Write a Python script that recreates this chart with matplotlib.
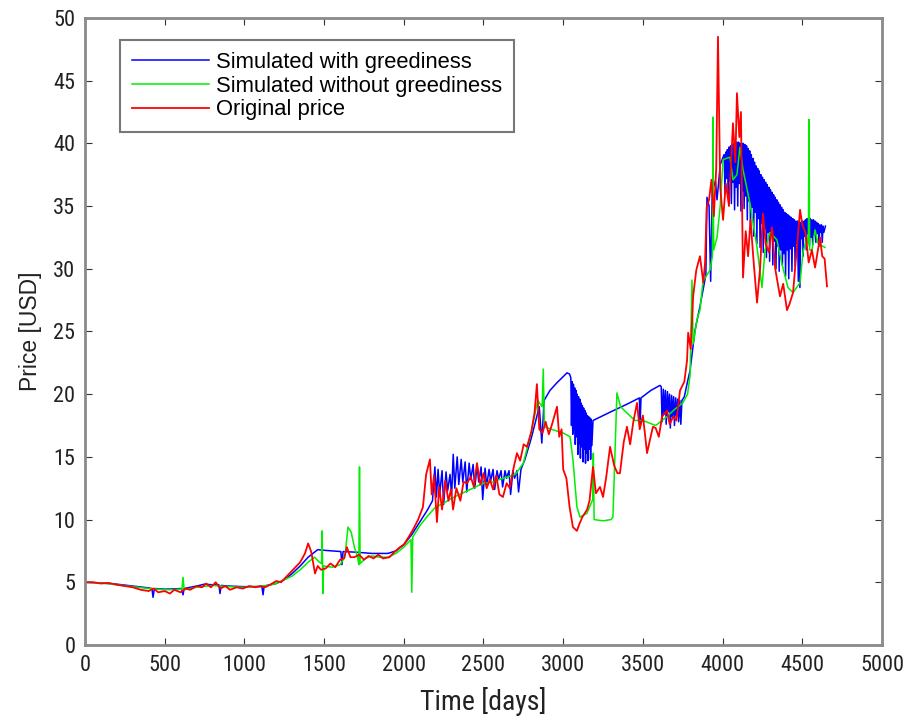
import numpy as np
import matplotlib
matplotlib.use("Agg")
import matplotlib.pyplot as plt

# (day, price) samples for each series
greedy_pts = [
    (0, 5.0), (100, 4.95), (200, 4.85), (300, 4.7), (400, 4.55), (420, 4.5), (427, 3.8), (435, 4.5),
    (500, 4.45), (605, 4.5), (615, 4.0), (622, 4.5), (700, 4.7), (750, 4.85), (800, 4.8), (840, 4.8),
    (847, 4.1), (854, 4.75), (900, 4.7), (1000, 4.65), (1110, 4.65), (1117, 4.0), (1124, 4.7),
    (1200, 4.9), (1250, 5.2), (1300, 5.7), (1350, 6.3), (1400, 7.0), (1430, 7.3), (1460, 7.6),
    (1500, 7.55), (1550, 7.5), (1605, 7.45), (1612, 6.4), (1619, 7.45), (1700, 7.4), (1800, 7.3),
    (1900, 7.3), (1950, 7.5), (2000, 8.0), (2050, 8.8), (2100, 9.8), (2150, 10.8), (2180, 11.5),
    (2195, 14.2), (2205, 11.8), (2215, 14.0), (2225, 12.0), (2240, 13.9), (2250, 11.2), (2265, 13.8),
    (2275, 12.3), (2290, 13.6), (2300, 11.9), (2310, 15.2), (2320, 12.5), (2335, 15.0), (2345, 12.8),
    (2360, 14.8), (2370, 13.0), (2385, 14.6), (2395, 12.2), (2410, 14.5), (2420, 13.2), (2435, 14.4),
    (2445, 12.5), (2460, 14.3), (2470, 13.0), (2485, 14.2), (2495, 11.6), (2510, 14.1), (2520, 12.7),
    (2535, 14.0), (2545, 13.1), (2560, 14.0), (2570, 12.4), (2585, 13.9), (2595, 13.2), (2610, 13.9),
    (2620, 12.6), (2635, 13.9), (2645, 13.3), (2660, 13.9), (2670, 12.0), (2685, 13.9), (2695, 13.3),
    (2710, 13.9), (2720, 12.2), (2735, 14.0), (2760, 14.8), (2800, 16.5), (2830, 18.0), (2850, 19.0),
    (2866, 16.1), (2880, 19.5), (2917, 20.3), (2960, 20.9), (3000, 21.4), (3024, 21.7), (3040, 21.6),
    (3048, 21.3), (3052, 17.5), (3056, 21.0), (3060, 16.8), (3064, 20.8), (3068, 17.2), (3072, 20.5),
    (3076, 16.0), (3080, 20.3), (3084, 16.6), (3088, 20.0), (3092, 15.2), (3096, 19.8), (3100, 16.0),
    (3104, 19.6), (3108, 14.9), (3112, 19.3), (3116, 15.8), (3120, 19.1), (3124, 14.6), (3128, 18.9),
    (3132, 15.6), (3136, 18.7), (3140, 14.5), (3144, 18.5), (3148, 15.3), (3152, 18.3), (3156, 14.7),
    (3160, 18.2), (3164, 15.6), (3168, 18.1), (3172, 14.8), (3176, 18.0), (3180, 15.9), (3187, 17.9),
    (3300, 18.6), (3400, 19.2), (3478, 19.7), (3482, 17.4), (3488, 19.7), (3550, 20.3), (3607, 20.7),
    (3615, 20.6), (3620, 17.8), (3628, 20.4), (3633, 18.4), (3641, 20.3), (3646, 17.6), (3654, 20.2),
    (3659, 18.6), (3667, 20.0), (3672, 17.3), (3680, 19.9), (3685, 18.2), (3693, 19.8), (3698, 17.5),
    (3706, 19.7), (3711, 18.3), (3719, 19.6), (3724, 17.8), (3732, 19.5), (3738, 17.6), (3745, 19.5),
    (3760, 19.8), (3780, 21.0), (3796, 21.9), (3827, 25.1), (3858, 27.0), (3877, 28.3), (3895, 29.5),
    (3902, 35.7), (3915, 35.0), (3925, 29.0), (3935, 36.2), (3955, 37.0), (3965, 35.5), (3985, 38.3),
    (4003, 38.9),
    (4010, 39.1), (4015, 36.0), (4020, 39.3), (4025, 37.2), (4030, 39.5), (4035, 35.8), (4040, 39.7),
    (4045, 37.0), (4050, 39.8), (4055, 35.2), (4060, 39.9), (4065, 36.9), (4070, 40.0), (4075, 34.7),
    (4080, 40.1), (4085, 36.5), (4090, 40.1), (4095, 35.0), (4100, 40.1), (4105, 36.8), (4110, 40.0),
    (4115, 34.6), (4120, 40.0), (4125, 36.2), (4130, 40.0), (4135, 34.8), (4140, 39.9), (4145, 35.8),
    (4150, 39.8), (4155, 33.9), (4160, 39.6), (4165, 35.4), (4170, 39.4), (4175, 33.2), (4180, 39.1),
    (4185, 34.9), (4190, 38.8), (4195, 32.6), (4200, 38.5), (4205, 34.5), (4210, 38.2), (4215, 32.0),
    (4220, 38.0), (4225, 34.0), (4230, 37.8), (4235, 31.7), (4240, 37.5), (4245, 33.6), (4250, 37.3),
    (4255, 31.3), (4260, 37.1), (4265, 33.2), (4270, 36.9), (4275, 30.9), (4280, 36.7), (4285, 32.9),
    (4290, 36.5), (4295, 30.6), (4300, 36.3), (4305, 32.6), (4310, 36.1), (4315, 30.3), (4320, 35.9),
    (4325, 32.2), (4330, 35.7), (4335, 30.0), (4340, 35.5), (4345, 31.8), (4350, 35.3), (4355, 29.8),
    (4360, 35.1), (4365, 31.5), (4370, 34.9), (4375, 30.3), (4380, 34.7), (4385, 31.2), (4390, 34.5),
    (4395, 29.4), (4400, 34.4), (4405, 31.5), (4410, 34.3), (4415, 29.2), (4420, 34.2), (4425, 31.6),
    (4430, 34.1), (4435, 29.8), (4440, 34.0), (4445, 31.8), (4450, 33.9), (4455, 30.2), (4460, 33.8),
    (4465, 32.0), (4470, 33.8), (4475, 29.0), (4480, 33.7), (4485, 28.5), (4490, 33.7), (4495, 32.4),
    (4500, 33.8), (4505, 31.0), (4510, 33.8), (4515, 32.6), (4520, 33.9), (4525, 31.5), (4530, 34.0),
    (4535, 32.8), (4540, 34.0), (4545, 31.8), (4550, 34.0), (4555, 32.5), (4560, 33.9), (4565, 31.9),
    (4570, 33.9), (4575, 32.7), (4580, 33.8), (4585, 32.1), (4590, 33.7), (4595, 32.8), (4600, 33.6),
    (4605, 31.8), (4610, 33.5), (4615, 32.9), (4620, 33.5), (4625, 32.1), (4630, 33.4), (4635, 32.9),
    (4645, 33.4),
]

plain_pts = [
    (0, 5.0), (100, 4.95), (200, 4.8), (300, 4.65), (400, 4.5), (500, 4.4), (608, 4.45), (615, 5.4),
    (622, 4.4), (700, 4.6), (800, 4.75), (900, 4.65), (1000, 4.6), (1100, 4.7), (1150, 4.75),
    (1200, 4.9), (1300, 5.5), (1350, 6.0), (1400, 6.6), (1440, 7.0), (1470, 6.6), (1484, 6.5),
    (1488, 9.1), (1492, 4.1), (1497, 6.3), (1550, 6.2), (1600, 6.4), (1630, 7.0), (1650, 9.4),
    (1670, 9.0), (1690, 7.8), (1710, 7.0), (1718, 6.4), (1722, 14.2), (1726, 6.5), (1760, 6.9),
    (1800, 7.1), (1850, 7.0), (1900, 7.0), (1950, 7.3), (2000, 7.8), (2045, 8.4), (2050, 4.2),
    (2056, 8.6), (2100, 9.5), (2150, 10.3), (2200, 11.0), (2250, 11.3), (2300, 11.7), (2350, 12.0),
    (2400, 12.3), (2450, 12.6), (2500, 12.9), (2560, 13.0), (2600, 13.2), (2650, 13.4), (2700, 13.6),
    (2750, 14.5), (2800, 17.0), (2840, 19.5), (2868, 19.0), (2875, 22.0), (2882, 17.4), (2950, 17.1),
    (3000, 16.9), (3043, 16.6), (3061, 14.8), (3086, 11.0), (3105, 10.2), (3149, 10.5), (3185, 11.6),
    (3189, 15.3), (3194, 10.0), (3250, 9.9), (3300, 10.0), (3312, 10.2), (3337, 20.1), (3360, 19.0),
    (3400, 18.5), (3450, 17.9), (3500, 17.9), (3580, 17.5), (3650, 18.2), (3700, 18.8), (3750, 19.3),
    (3780, 20.0), (3796, 21.5), (3808, 29.1), (3815, 24.0), (3840, 26.0), (3858, 26.7), (3877, 29.0),
    (3921, 29.9), (3936, 31.0), (3940, 42.1), (3944, 31.5), (3965, 32.5), (3985, 35.0), (4003, 38.7),
    (4046, 38.9), (4065, 37.1), (4090, 37.5), (4109, 39.7), (4128, 37.9), (4172, 35.2), (4216, 31.7),
    (4247, 28.5), (4266, 31.5), (4297, 32.9), (4341, 32.3), (4370, 30.5), (4410, 28.5), (4442, 28.1),
    (4486, 28.9), (4504, 31.3), (4529, 32.5), (4538, 32.0), (4542, 41.9), (4546, 31.5), (4561, 31.5),
    (4580, 33.1), (4599, 32.0), (4642, 31.7),
]

original_pts = [
    (0, 5.0), (50, 5.0), (100, 4.9), (150, 4.95), (200, 4.8), (250, 4.7), (300, 4.6), (350, 4.4),
    (400, 4.3), (430, 4.5), (460, 4.2), (500, 4.3), (533, 4.1), (560, 4.4), (600, 4.2), (630, 4.5),
    (660, 4.4), (700, 4.7), (734, 4.6), (760, 4.9), (790, 4.6), (820, 5.0), (850, 4.5), (880, 4.7),
    (910, 4.4), (950, 4.6), (990, 4.5), (1030, 4.7), (1070, 4.6), (1100, 4.7), (1130, 4.6),
    (1160, 4.8), (1200, 5.1), (1230, 5.0), (1260, 5.4), (1290, 5.8), (1320, 6.2), (1350, 6.6),
    (1380, 7.3), (1400, 8.1), (1420, 7.4), (1443, 5.7), (1460, 6.3), (1480, 6.0), (1510, 6.1),
    (1540, 6.5), (1570, 6.2), (1600, 6.8), (1625, 6.9), (1643, 7.8), (1665, 7.0), (1690, 7.0),
    (1720, 7.2), (1750, 6.8), (1780, 7.1), (1810, 6.9), (1840, 7.2), (1870, 6.9), (1910, 7.0),
    (1940, 7.4), (1976, 7.8), (2000, 8.0), (2030, 8.6), (2058, 9.2), (2090, 10.0), (2120, 11.0),
    (2140, 13.6), (2164, 14.8), (2175, 12.0), (2190, 13.5), (2208, 9.8), (2222, 12.6), (2240, 10.8),
    (2260, 13.1), (2280, 11.5), (2296, 12.4), (2309, 10.8), (2330, 12.5), (2355, 11.5), (2375, 13.0),
    (2396, 12.9), (2420, 13.4), (2440, 12.6), (2459, 14.5), (2480, 12.8), (2500, 13.7), (2520, 12.5),
    (2540, 13.2), (2560, 12.4), (2580, 13.5), (2600, 12.0), (2622, 11.8), (2645, 12.9), (2665, 12.5),
    (2690, 14.2), (2710, 15.3), (2730, 14.7), (2752, 16.0), (2773, 15.8), (2800, 17.0), (2820, 18.5),
    (2835, 20.8), (2850, 17.2), (2870, 16.9), (2890, 17.8), (2910, 16.8), (2930, 17.6), (2961, 19.0),
    (2975, 16.6), (2990, 17.2), (3000, 14.0), (3020, 13.3), (3040, 11.0), (3061, 9.4), (3086, 9.1),
    (3100, 9.6), (3120, 10.2), (3150, 10.8), (3165, 11.5), (3187, 14.2), (3205, 12.1), (3231, 12.6),
    (3250, 11.8), (3270, 13.4), (3294, 15.8), (3320, 14.3), (3340, 13.7), (3356, 13.7), (3380, 16.2),
    (3400, 17.4), (3420, 16.0), (3440, 17.8), (3463, 19.3), (3480, 17.2), (3500, 18.3), (3526, 15.3),
    (3545, 16.4), (3563, 17.4), (3580, 17.3), (3600, 16.6), (3620, 18.2), (3651, 18.7), (3668, 17.6),
    (3690, 18.2), (3710, 17.9), (3733, 20.3), (3760, 21.0), (3777, 22.7), (3784, 24.9), (3800, 23.6),
    (3815, 27.8), (3835, 29.9), (3858, 31.0), (3879, 28.9), (3890, 30.5), (3900, 34.9), (3915, 35.5),
    (3930, 37.1), (3945, 34.2), (3960, 38.0), (3971, 48.5), (3985, 36.5), (4003, 33.9), (4020, 36.8),
    (4040, 35.0), (4065, 41.6), (4080, 38.5), (4090, 44.0), (4105, 40.5), (4115, 42.5), (4128, 29.3),
    (4145, 33.0), (4160, 31.0), (4175, 33.9), (4195, 30.5), (4216, 27.3), (4235, 30.0), (4253, 34.4),
    (4270, 32.0), (4290, 31.3), (4310, 33.3), (4330, 30.0), (4360, 27.8), (4380, 28.8), (4404, 26.7),
    (4420, 27.2), (4442, 28.1), (4465, 31.5), (4486, 34.7), (4500, 33.5), (4520, 32.9), (4540, 30.5),
    (4560, 31.5), (4580, 30.1), (4611, 32.5), (4625, 31.0), (4640, 30.8), (4655, 28.6),
]

x_ticks = [0, 500, 1000, 1500, 2000, 2500, 3000, 3500, 4000, 4500, 5000]
y_ticks = [0, 5, 10, 15, 20, 25, 30, 35, 40, 45, 50]

narrow = ['Roboto Condensed', 'DejaVu Sans']
regular = ['Liberation Sans', 'DejaVu Sans']

fig = plt.figure(figsize=(9.09, 7.18), dpi=100)
ax = fig.add_axes([0.0935, 0.1017, 0.8768, 0.8733])

series = [
    (greedy_pts, '#0000ff', 1.1, 'Simulated with greediness'),
    (plain_pts, '#00ee00', 1.1, 'Simulated without greediness'),
    (original_pts, '#ff0000', 1.3, 'Original price'),
]
for pts, col, w, lab in series:
    d = np.array(pts)
    ax.plot(d[:, 0], d[:, 1], color=col, lw=w, label=lab)

ax.set_xlim(0, 5000)
ax.set_ylim(0, 50)
ax.set_xticks(x_ticks)
ax.set_yticks(y_ticks)
ax.tick_params(direction='in', length=5, width=0.8, colors='#333333',
               top=True, right=True, labelsize=16, pad=7)
for lbl in ax.get_xticklabels() + ax.get_yticklabels():
    lbl.set_family(narrow)
    lbl.set_color('#222222')
for sp in ax.spines.values():
    sp.set_color('#8a8a8a')
    sp.set_linewidth(2)

ax.set_xlabel('Time [days]', family=narrow, fontsize=20, color='#222222', labelpad=8)
ax.set_ylabel('Price [USD]', family=regular, fontsize=16.5, color='#222222', labelpad=8)

leg = ax.legend(loc='upper left', bbox_to_anchor=(0.044, 0.965), prop={'family': regular, 'size': 15.8},
                frameon=True, fancybox=False, handlelength=3.5, handletextpad=0.3,
                borderpad=0.55, labelspacing=0.12, borderaxespad=0)
leg.get_frame().set_edgecolor('#555555')
leg.get_frame().set_linewidth(1.5)

fig.savefig('out.png', dpi=100)
